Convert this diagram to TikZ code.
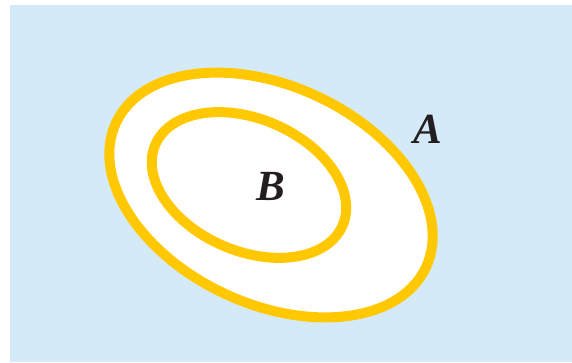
\documentclass[tikz,border=0pt]{standalone}
\usepackage{fontspec}
\setmainfont{Liberation Serif}
\definecolor{bgblue}{HTML}{D4EAF9}
\definecolor{ringyellow}{HTML}{FFC800}
\definecolor{txt}{HTML}{231F20}
\begin{document}
\begin{tikzpicture}[x=1pt,y=-1pt,
  ring/.style={draw=ringyellow,line width=10pt,fill=white},
  setlabel/.style={text=txt,font=\fontsize{43}{43}\selectfont\bfseries\itshape,inner sep=0pt}]
\useasboundingbox (0,0) rectangle (572,362);
\fill[bgblue] (10,5) rectangle (572,362);
\coordinate (co) at (271,195);
\coordinate (ci) at (249,185);
\draw[ring,rotate around={-25:(co)}] (co) ellipse [x radius=171, y radius=109];
\draw[ring,rotate around={-23.4:(ci)}] (ci) ellipse [x radius=102, y radius=66];
\node[setlabel] (A) at (428,129) {A};
\node[setlabel] (B) at (271,186) {B};
\end{tikzpicture}
\end{document}
